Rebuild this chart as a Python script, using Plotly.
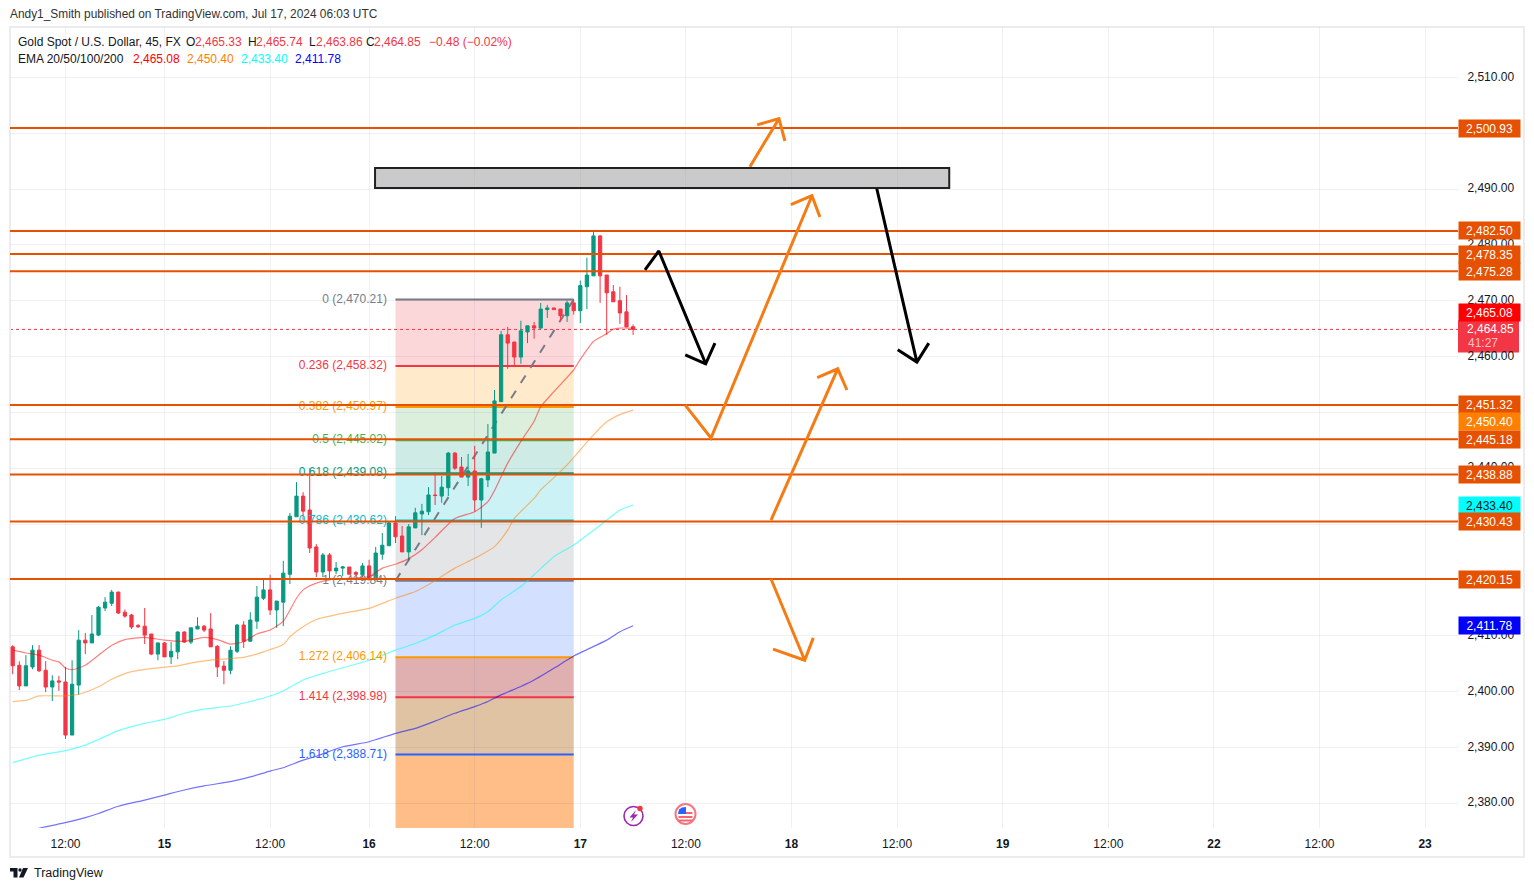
import plotly.graph_objects as go

# ---------- data ----------
opens = [2408.0,2404.7,2401.0,2404.4,2407.4,2403.8,2400.8,2401.9,2401.7,2392.2,
 2401.15,2409.2,2408.7,2410.1,2414.95,2415.8,2417.8,2414.2,2413.7,2411.8,
 2411.7,2410.3,2406.7,2408.7,2406.2,2407.1,2410.65,2408.85,2411.2,2411.7,
 2411.2,2408.1,2404.55,2403.8,2407.2,2411.9,2409.0,2412.6,2416.7,2418.2,
 2414.6,2416.0,2421.0,2431.3,2435.0,2432.5,2425.9,2421.4,2424.45,2421.6,
 2422.1,2422.3,2421.3,2420.9,2422.5,2420.0,2424.6,2426.1,2430.2,2427.85,
 2425.0,2429.3,2431.8,2432.2,2435.2,2435.0,2436.5,2442.7,2440.2,2438.4,
 2439.5,2434.3,2437.9,2442.7,2451.9,2463.9,2462.6,2459.9,2464.4,2465.5,
 2465.1,2468.4,2468.7,2468.5,2467.3,2469.6,2468.2,2472.5,2474.45,2481.6,
 2474.6,2471.6,2470.0,2468.0,2465.33]
highs = [2408.3,2405.4,2406.5,2408.3,2408.3,2405.45,2402.9,2402.8,2404.4,2405.6,
 2411.0,2410.5,2413.7,2415.3,2416.9,2418.2,2417.9,2414.7,2413.9,2412.1,
 2414.95,2410.3,2408.7,2408.85,2408.85,2410.8,2410.8,2411.4,2413.3,2411.9,
 2414.05,2408.3,2405.45,2408.1,2412.1,2412.6,2414.2,2418.9,2420.3,2420.9,
 2416.2,2423.4,2432.0,2437.5,2435.7,2440.0,2426.4,2424.8,2424.8,2423.2,
 2422.5,2422.3,2421.6,2423.0,2423.6,2425.9,2428.4,2430.4,2431.4,2429.65,
 2430.0,2432.9,2433.6,2436.6,2439.3,2438.6,2442.9,2442.9,2442.0,2442.55,
 2444.0,2438.25,2447.9,2454.0,2464.6,2465.3,2462.6,2466.4,2465.5,2466.2,
 2469.6,2469.25,2468.7,2468.5,2470.0,2470.0,2473.6,2477.7,2482.5,2481.8,
 2474.6,2472.8,2472.5,2471.0,2465.74]
lows = [2403.1,2400.25,2401.0,2404.0,2403.5,2399.9,2398.3,2400.1,2391.5,2392.2,
 2399.4,2406.7,2408.7,2409.9,2414.4,2415.3,2413.9,2413.2,2411.2,2411.4,
 2408.5,2406.5,2405.6,2406.2,2404.9,2405.8,2408.7,2408.5,2411.2,2410.65,
 2408.0,2402.6,2401.3,2403.1,2406.9,2407.8,2409.0,2411.2,2416.4,2413.7,
 2411.4,2411.7,2419.25,2431.3,2430.7,2424.8,2420.5,2420.5,2420.0,2421.0,
 2420.7,2421.0,2420.7,2420.5,2420.0,2420.0,2423.6,2426.1,2426.6,2425.0,
 2423.4,2429.3,2428.0,2431.6,2433.4,2433.8,2435.0,2439.7,2438.4,2436.8,
 2432.2,2429.3,2436.6,2442.7,2451.9,2457.8,2458.1,2458.7,2462.4,2463.2,
 2464.8,2466.9,2468.4,2466.4,2466.2,2467.5,2466.0,2468.5,2474.45,2469.6,
 2463.9,2469.8,2465.85,2465.3,2463.86]
closes = [2404.6,2401.0,2404.6,2407.4,2403.7,2400.8,2401.9,2401.7,2392.2,2401.3,
 2409.2,2408.7,2410.3,2415.1,2416.0,2417.8,2414.05,2413.5,2411.55,2411.6,
 2410.1,2406.7,2408.7,2406.2,2407.2,2410.65,2408.85,2411.4,2411.7,2411.0,
 2408.0,2404.4,2403.8,2407.4,2411.9,2409.0,2412.8,2416.9,2418.2,2414.6,
 2416.2,2421.2,2431.4,2435.0,2432.3,2425.7,2421.4,2424.45,2421.6,2422.1,
 2422.3,2421.0,2421.0,2422.5,2420.0,2424.8,2426.2,2430.2,2427.7,2425.0,
 2429.5,2432.0,2432.3,2435.2,2435.1,2436.6,2442.7,2440.0,2438.4,2439.5,
 2434.3,2438.1,2442.9,2452.05,2463.9,2462.4,2459.9,2464.6,2465.5,2465.1,
 2468.5,2468.7,2468.4,2467.3,2469.6,2468.2,2472.7,2474.6,2481.6,2474.45,
 2471.4,2469.8,2467.8,2465.3,2464.85]

ema20_bars = [0,2,4,6,7,8,9,11,13,15,17,20,23,26,29,31,33,35,37,39,41,43,44,46,48,51,54,56,58,60,62,64,67,70,72,73,75,77,79,80,82,85,86,88,90,91,92,93,94]
ema20_vals = [2407.4,2406.9,2406.5,2405.6,2405.3,2404.2,2403.9,2404.7,2406.5,2408.3,2409.3,2409.7,2409.2,2409.0,2409.7,2409.3,2408.5,2408.9,2410.3,2411.0,2412.6,2416.7,2418.2,2419.4,2420.0,2420.3,2420.6,2422.1,2422.8,2423.8,2425.4,2427.6,2431.0,2432.2,2434.0,2436.0,2440.9,2444.8,2448.4,2451.0,2453.7,2457.6,2459.5,2462.7,2464.1,2464.9,2465.1,2465.1,2465.08]
ema50_bars = [0,2,4,8,10,13,15,18,21,25,28,31,35,38,41,42,44,46,50,54,58,61,64,67,70,73,75,76,79,80,82,84,86,88,90,92,94]
ema50_vals = [2398.2,2398.4,2399.2,2399.2,2399.5,2400.85,2402.2,2403.55,2404.1,2404.6,2405.3,2405.75,2406.1,2407.1,2408.4,2409.8,2411.6,2412.9,2414.0,2414.9,2416.7,2417.9,2419.85,2422.1,2423.85,2425.95,2428.9,2431.0,2434.6,2436.1,2438.3,2440.6,2443.3,2445.95,2448.3,2449.6,2450.40]
ema100_bars = [0,4,8,11,13,16,20,23,26,29,33,36,39,41,44,47,54,58,61,64,67,70,72,74,77,79,82,85,90,92,94]
ema100_vals = [2387.25,2388.6,2389.4,2390.4,2391.4,2393.0,2394.3,2395.0,2396.1,2396.85,2397.4,2398.2,2399.2,2400.1,2402.05,2403.25,2405.6,2407.4,2408.6,2410.1,2411.9,2413.1,2414.3,2416.4,2418.8,2420.9,2424.15,2426.25,2430.7,2432.5,2433.40]
ema200_bars = [3,4,8,11,13,16,20,23,26,29,33,36,39,41,44,46,50,54,58,61,64,67,70,72,74,77,79,82,85,90,92,94]
ema200_vals = [2375.0,2375.5,2376.5,2377.4,2378.15,2379.45,2380.55,2381.45,2382.35,2383.1,2383.85,2384.7,2385.75,2386.35,2387.7,2388.4,2390.1,2391.0,2392.5,2393.4,2394.7,2396.1,2397.3,2398.2,2399.4,2400.9,2402.05,2404.15,2406.35,2409.2,2410.7,2411.78]

level_prices = [2500.93,2482.50,2478.35,2475.28,2451.32,2445.18,2438.88,2430.43,2420.15]

fib_ratios = ["0","0.236","0.382","0.5","0.618","0.786","1","1.272","1.414","1.618"]
fib_prices = [2470.21,2458.32,2450.97,2445.02,2439.08,2430.62,2419.84,2406.14,2398.98,2388.71]
fib_colors = ["#787B86","#F23645","#FF9800","#4CAF50","#089981","#00BCD4","#787B86","#FF9800","#F23645","#2962FF"]
fib_fills = ["rgba(242,54,69,.2)","rgba(255,152,0,.2)","rgba(76,175,80,.2)","rgba(8,153,129,.2)","rgba(0,188,212,.2)",
             "rgba(120,123,134,.2)","rgba(41,98,255,.2)","rgba(193,97,97,.5)","rgba(193,135,71,.5)","rgba(255,125,15,.5)"]
fib_start_bar, fib_end_bar = 58, 85

zone_bars = [54.9, 141.9]
zone_prices = [2490.18, 2493.77]

orange_paths = [
    ([111.7,116.1,112.8,116.1,117.0],[2494.0,2502.6,2501.5,2502.6,2498.6]),
    ([101.9,105.8,121.1,117.9,121.1,122.3],[2451.3,2445.4,2488.8,2487.2,2488.8,2485.0]),
    ([114.9,125.0,121.9,125.0,126.4],[2430.7,2457.8,2456.2,2457.8,2454.0]),
    ([114.9,120.0,115.2,120.0,121.3],[2420.15,2405.6,2407.6,2405.6,2409.6]),
]
black_paths = [
    ([95.8,97.9,105.0,101.9,105.0,106.4],[2475.5,2478.9,2458.7,2460.3,2458.7,2462.4]),
    ([130.9,137.0,134.1,137.0,138.8],[2490.18,2459.0,2461.2,2459.0,2462.4]),
]

tick_bars = [8,23,39,54,70,86,102,118,134,150,166,182,198,214]
tick_labels = ["12:00","<b>15</b>","12:00","<b>16</b>","12:00","<b>17</b>","12:00","<b>18</b>","12:00","<b>19</b>","12:00","<b>22</b>","12:00","<b>23</b>"]
price_ticks = [2380,2390,2400,2410,2420,2430,2440,2450,2460,2470,2480,2490,2500,2510]
# labels wholly covered by a price tag in the reference
price_tick_labels = ["2,380.00","2,390.00","2,400.00","2,410.00","","","2,440.00","","2,460.00","2,470.00","2,480.00","2,490.00","","2,510.00"]

last_close = 2464.85

LEVEL = "#E65100"
# value, text, background, text colour, shift of the tag in px (up is positive)
price_tags = [
    (2500.93,"2,500.93",LEVEL,"#fff",0),(2482.50,"2,482.50",LEVEL,"#fff",0),
    (2478.35,"2,478.35",LEVEL,"#fff",0),(2475.28,"2,475.28",LEVEL,"#fff",0),
    (2465.08,"2,465.08","#FF0000","#fff",16),
    (2451.32,"2,451.32",LEVEL,"#fff",0),(2450.40,"2,450.40","#FF8000","#fff",-11),
    (2445.18,"2,445.18",LEVEL,"#fff",0),(2438.88,"2,438.88",LEVEL,"#fff",0),
    (2433.40,"2,433.40","#00FFFF","#131722",0),(2430.43,"2,430.43",LEVEL,"#fff",0),
    (2420.15,"2,420.15",LEVEL,"#fff",0),(2411.78,"2,411.78","#0000FF","#fff",0),
]

# ---------- frame ----------
W, H = 1534, 891
L, R, T, B = 10, 1458, 27, 828
BAR0, BAR_W = 12.7, 6.6
x_range = [(L-BAR0)/BAR_W, (R-BAR0)/BAR_W]
y_range = [2375.55, 2519.02]
FONT = "Liberation Sans"
GRID = "rgba(25,50,120,.07)"
def px(x): return (x-L)/(R-L)
def py(y): return (B-y)/(B-T)

bars = list(range(len(opens)))
fig = go.Figure()

fig.add_trace(go.Candlestick(x=bars, open=opens, high=highs, low=lows, close=closes,
    increasing=dict(line=dict(color="#089981", width=1), fillcolor="#089981"),
    decreasing=dict(line=dict(color="#F23645", width=1), fillcolor="#F23645"),
    whiskerwidth=0, hoverinfo="skip", showlegend=False))

for bx, vals, col in [(ema20_bars, ema20_vals, "rgba(255,0,0,.5)"), (ema50_bars, ema50_vals, "rgba(255,128,0,.5)"),
                      (ema100_bars, ema100_vals, "rgba(0,255,255,.55)"), (ema200_bars, ema200_vals, "rgba(0,0,255,.55)")]:
    fig.add_trace(go.Scatter(x=bx, y=vals, mode="lines", line=dict(color=col, width=1.2, shape="spline", smoothing=0.6),
                             hoverinfo="skip", showlegend=False))

fib_text = [f"{r} ({p:,.2f})" for r, p in zip(fib_ratios, fib_prices)]
fig.add_trace(go.Scatter(x=[fib_start_bar-1.3]*len(fib_prices), y=fib_prices, mode="text", text=fib_text,
    textposition="middle left", textfont=dict(family=FONT, size=12, color=fib_colors), hoverinfo="skip", showlegend=False))

for lv in level_prices:
    fig.add_trace(go.Scatter(x=x_range, y=[lv, lv], mode="lines", line=dict(color=LEVEL, width=2), hoverinfo="skip", showlegend=False))

for ax_, ay_ in orange_paths:
    fig.add_trace(go.Scatter(x=ax_, y=ay_, mode="lines", line=dict(color="#F57C14", width=3), hoverinfo="skip", showlegend=False))
for ax_, ay_ in black_paths:
    fig.add_trace(go.Scatter(x=ax_, y=ay_, mode="lines", line=dict(color="#000000", width=3), hoverinfo="skip", showlegend=False))

shapes = []
fill_bottoms = fib_prices[1:] + [y_range[0]]
for top, bot, col in zip(fib_prices, fill_bottoms, fib_fills):
    shapes.append(dict(type="rect", xref="x", yref="y", x0=fib_start_bar, x1=fib_end_bar, y0=bot, y1=top,
                       fillcolor=col, line_width=0, layer="below"))
for p, col in zip(fib_prices, fib_colors):
    shapes.append(dict(type="line", xref="x", yref="y", x0=fib_start_bar, x1=fib_end_bar, y0=p, y1=p,
                       line=dict(color=col, width=2), layer="below"))
shapes.append(dict(type="line", xref="x", yref="y", x0=fib_start_bar, x1=fib_end_bar, y0=fib_prices[6], y1=fib_prices[0],
                   line=dict(color="#787B86", width=2, dash="dash"), layer="below"))
shapes.append(dict(type="rect", xref="x", yref="y", x0=zone_bars[0], x1=zone_bars[1], y0=zone_prices[0], y1=zone_prices[1],
                   fillcolor="rgba(150,150,150,.5)", line=dict(color="#212121", width=2), layer="above"))
shapes.append(dict(type="line", xref="paper", yref="y", x0=0, x1=1, y0=last_close, y1=last_close,
                   line=dict(color="#F23645", width=1, dash="dot"), layer="below"))
shapes.append(dict(type="rect", xref="paper", yref="paper", x0=px(10), x1=px(1524), y0=py(857), y1=py(27),
                   line=dict(color="#EBEBF0", width=2), layer="below"))
shapes.append(dict(type="rect", xref="paper", yref="paper", x0=px(1458), x1=px(1519), y0=py(352.5), y1=py(320.5),
                   fillcolor="#F23645", line_width=0, layer="below"))

def poly(points, color):
    d = "M" + " L".join(f"{px(a):.5f},{py(b):.5f}" for a, b in points) + " Z"
    shapes.append(dict(type="path", xref="paper", yref="paper", path=d, fillcolor=color, line_width=0, layer="above"))
def circ(cx, cy, r, fill, line=None, lw=0):
    shapes.append(dict(type="circle", xref="paper", yref="paper", x0=px(cx-r), x1=px(cx+r), y0=py(cy+r), y1=py(cy-r),
                       fillcolor=fill, line=dict(color=line or fill, width=lw), layer="above"))
circ(633.5, 816, 9.5, "#FFFFFF", "#9C27B0", 1.6)
poly([(636,810),(629.5,817.5),(633,817.5),(631,822),(638,814.5),(634,814.5)], "#9C27B0")
circ(640, 808.5, 2.7, "#F23645")
circ(685.5, 814, 10, "#FFFFFF", "#F7767F", 2)
for yy in [812, 816, 819.5]:
    poly([(678.5,yy),(692.5,yy),(692.5,yy+2),(678.5,yy+2)], "#F7666F")
poly([(678,814),(679,809.5),(682,807.5),(686,807),(686,814)], "#2962FF")
poly([(10,868),(17.5,868),(17.5,877.5),(13.5,877.5),(13.5,871.5),(10,871.5)], "#131722")
circ(20, 870, 1.7, "#131722")
poly([(23,868),(28,868),(23.5,877.5),(19,877.5)], "#131722")

ann = []
def text(x, y, s, color="#131722", size=12, anchor="left"):
    ann.append(dict(xref="paper", yref="paper", x=px(x), y=py(y), text=s, showarrow=False, xanchor=anchor, yanchor="middle",
                    font=dict(family=FONT, size=size, color=color), borderpad=0, bgcolor="rgba(0,0,0,0)"))
text(9, 14, "Andy1_Smith published on TradingView.com, Jul 17, 2024 06:03 UTC", "#333", 11.9)
RED = "#F23645"
for x, s, c in [(17,"Gold Spot / U.S. Dollar, 45, FX","#131722"),(185,"O","#131722"),(194,"2,465.33",RED),(247,"H","#131722"),(255,"2,465.74",RED),
                (308,"L","#131722"),(315,"2,463.86",RED),(365,"C","#131722"),(373,"2,464.85",RED),(428,"−0.48 (−0.02%)",RED)]:
    text(x, 42, s, c)
for x, s, c in [(17,"EMA 20/50/100/200","#131722"),(132,"2,465.08","#FF0000"),(186,"2,450.40","#FF8000"),(240,"2,433.40","#00FFFF"),(294,"2,411.78","#0000FF")]:
    text(x, 59, s, c)
text(33, 873, "TradingView", "#131722", 12.5)

for val, s, bg, fg, shift in price_tags:
    ann.append(dict(xref="paper", yref="y", x=1.0, y=val, yshift=shift, xanchor="left", yanchor="middle", showarrow=False,
                    text=f"{s}", width=61, height=17, align="center", valign="middle", bgcolor=bg, borderpad=0,
                    font=dict(family=FONT, size=12, color=fg)))
text(1466, 329, f"{last_close:,.2f}", "#FFFFFF")
text(1467, 343, "41:27", "rgba(255,255,255,.7)")

fig.update_layout(
    width=W, height=H, margin=dict(l=L, r=W-R, t=T, b=H-B), paper_bgcolor="#FFFFFF", plot_bgcolor="#FFFFFF",
    showlegend=False, shapes=shapes, annotations=ann, hovermode=False,
    font=dict(family=FONT, size=12, color="#131722"),
    xaxis=dict(range=x_range, tickmode="array", tickvals=tick_bars, ticktext=tick_labels, showgrid=True, gridcolor=GRID,
               gridwidth=1, zeroline=False, showline=False, ticks="outside", ticklen=5, tickcolor="rgba(0,0,0,0)",
               rangeslider=dict(visible=False), fixedrange=True,
               tickfont=dict(family=FONT, size=12, color="#131722")),
    yaxis=dict(range=y_range, side="right", tickmode="array", tickvals=price_ticks, ticktext=price_tick_labels, showgrid=True,
               gridcolor=GRID, gridwidth=1, zeroline=False, showline=False, ticks="outside", ticklen=6,
               tickcolor="rgba(0,0,0,0)", fixedrange=True, ticklabelshift=-1,
               tickfont=dict(family=FONT, size=12, color="#131722")),
)
fig.write_html("out.html", config=dict(displayModeBar=False),
               post_script="document.body.style.margin='0';document.body.style.overflow='hidden';")
